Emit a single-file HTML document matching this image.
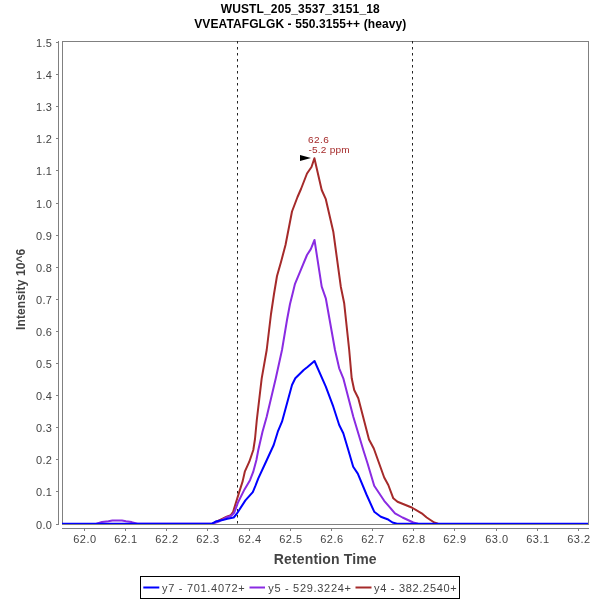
<!DOCTYPE html><html><head><meta charset="utf-8"><style>html,body{margin:0;padding:0;background:#fff;width:600px;height:600px;overflow:hidden}svg{display:block;will-change:transform}text{font-family:"Liberation Sans",sans-serif}</style></head><body>
<svg width="600" height="600" viewBox="0 0 600 600">
<rect x="0" y="0" width="600" height="600" fill="#fff"/>
<text x="300.3" y="13" text-anchor="middle" font-size="12" letter-spacing="0.14" font-weight="bold" fill="#000">WUSTL_205_3537_3151_18</text>
<text x="300.3" y="28" text-anchor="middle" font-size="12" letter-spacing="0.1" font-weight="bold" fill="#000">VVEATAFGLGK - 550.3155++ (heavy)</text>
<rect x="62.5" y="41.5" width="526" height="483" fill="none" stroke="#808080" stroke-width="1"/>
<line x1="58.5" y1="41" x2="58.5" y2="525" stroke="#808080" stroke-width="1"/>
<line x1="56" y1="524.5" x2="58.5" y2="524.5" stroke="#808080" stroke-width="1"/>
<text x="52.3" y="528.7" text-anchor="end" font-size="11" letter-spacing="0.35" fill="#444">0.0</text>
<line x1="56" y1="491.5" x2="58.5" y2="491.5" stroke="#808080" stroke-width="1"/>
<text x="52.3" y="495.7" text-anchor="end" font-size="11" letter-spacing="0.35" fill="#444">0.1</text>
<line x1="56" y1="459.5" x2="58.5" y2="459.5" stroke="#808080" stroke-width="1"/>
<text x="52.3" y="463.7" text-anchor="end" font-size="11" letter-spacing="0.35" fill="#444">0.2</text>
<line x1="56" y1="427.5" x2="58.5" y2="427.5" stroke="#808080" stroke-width="1"/>
<text x="52.3" y="431.7" text-anchor="end" font-size="11" letter-spacing="0.35" fill="#444">0.3</text>
<line x1="56" y1="395.5" x2="58.5" y2="395.5" stroke="#808080" stroke-width="1"/>
<text x="52.3" y="399.7" text-anchor="end" font-size="11" letter-spacing="0.35" fill="#444">0.4</text>
<line x1="56" y1="363.5" x2="58.5" y2="363.5" stroke="#808080" stroke-width="1"/>
<text x="52.3" y="367.7" text-anchor="end" font-size="11" letter-spacing="0.35" fill="#444">0.5</text>
<line x1="56" y1="331.5" x2="58.5" y2="331.5" stroke="#808080" stroke-width="1"/>
<text x="52.3" y="335.7" text-anchor="end" font-size="11" letter-spacing="0.35" fill="#444">0.6</text>
<line x1="56" y1="299.5" x2="58.5" y2="299.5" stroke="#808080" stroke-width="1"/>
<text x="52.3" y="303.7" text-anchor="end" font-size="11" letter-spacing="0.35" fill="#444">0.7</text>
<line x1="56" y1="267.5" x2="58.5" y2="267.5" stroke="#808080" stroke-width="1"/>
<text x="52.3" y="271.7" text-anchor="end" font-size="11" letter-spacing="0.35" fill="#444">0.8</text>
<line x1="56" y1="235.5" x2="58.5" y2="235.5" stroke="#808080" stroke-width="1"/>
<text x="52.3" y="239.7" text-anchor="end" font-size="11" letter-spacing="0.35" fill="#444">0.9</text>
<line x1="56" y1="203.5" x2="58.5" y2="203.5" stroke="#808080" stroke-width="1"/>
<text x="52.3" y="207.7" text-anchor="end" font-size="11" letter-spacing="0.35" fill="#444">1.0</text>
<line x1="56" y1="170.5" x2="58.5" y2="170.5" stroke="#808080" stroke-width="1"/>
<text x="52.3" y="174.7" text-anchor="end" font-size="11" letter-spacing="0.35" fill="#444">1.1</text>
<line x1="56" y1="138.5" x2="58.5" y2="138.5" stroke="#808080" stroke-width="1"/>
<text x="52.3" y="142.7" text-anchor="end" font-size="11" letter-spacing="0.35" fill="#444">1.2</text>
<line x1="56" y1="106.5" x2="58.5" y2="106.5" stroke="#808080" stroke-width="1"/>
<text x="52.3" y="110.7" text-anchor="end" font-size="11" letter-spacing="0.35" fill="#444">1.3</text>
<line x1="56" y1="74.5" x2="58.5" y2="74.5" stroke="#808080" stroke-width="1"/>
<text x="52.3" y="78.7" text-anchor="end" font-size="11" letter-spacing="0.35" fill="#444">1.4</text>
<line x1="56" y1="42.5" x2="58.5" y2="42.5" stroke="#808080" stroke-width="1"/>
<text x="52.3" y="46.7" text-anchor="end" font-size="11" letter-spacing="0.35" fill="#444">1.5</text>
<line x1="62" y1="528.5" x2="589" y2="528.5" stroke="#808080" stroke-width="1"/>
<line x1="84.5" y1="528.5" x2="84.5" y2="531" stroke="#808080" stroke-width="1"/>
<text x="84.95" y="543" text-anchor="middle" font-size="11" letter-spacing="0.5" fill="#444">62.0</text>
<line x1="125.5" y1="528.5" x2="125.5" y2="531" stroke="#808080" stroke-width="1"/>
<text x="125.95" y="543" text-anchor="middle" font-size="11" letter-spacing="0.5" fill="#444">62.1</text>
<line x1="166.5" y1="528.5" x2="166.5" y2="531" stroke="#808080" stroke-width="1"/>
<text x="166.95" y="543" text-anchor="middle" font-size="11" letter-spacing="0.5" fill="#444">62.2</text>
<line x1="207.5" y1="528.5" x2="207.5" y2="531" stroke="#808080" stroke-width="1"/>
<text x="207.95" y="543" text-anchor="middle" font-size="11" letter-spacing="0.5" fill="#444">62.3</text>
<line x1="249.5" y1="528.5" x2="249.5" y2="531" stroke="#808080" stroke-width="1"/>
<text x="249.95" y="543" text-anchor="middle" font-size="11" letter-spacing="0.5" fill="#444">62.4</text>
<line x1="290.5" y1="528.5" x2="290.5" y2="531" stroke="#808080" stroke-width="1"/>
<text x="290.95" y="543" text-anchor="middle" font-size="11" letter-spacing="0.5" fill="#444">62.5</text>
<line x1="331.5" y1="528.5" x2="331.5" y2="531" stroke="#808080" stroke-width="1"/>
<text x="331.95" y="543" text-anchor="middle" font-size="11" letter-spacing="0.5" fill="#444">62.6</text>
<line x1="372.5" y1="528.5" x2="372.5" y2="531" stroke="#808080" stroke-width="1"/>
<text x="372.95" y="543" text-anchor="middle" font-size="11" letter-spacing="0.5" fill="#444">62.7</text>
<line x1="413.5" y1="528.5" x2="413.5" y2="531" stroke="#808080" stroke-width="1"/>
<text x="413.95" y="543" text-anchor="middle" font-size="11" letter-spacing="0.5" fill="#444">62.8</text>
<line x1="454.5" y1="528.5" x2="454.5" y2="531" stroke="#808080" stroke-width="1"/>
<text x="454.95" y="543" text-anchor="middle" font-size="11" letter-spacing="0.5" fill="#444">62.9</text>
<line x1="496.5" y1="528.5" x2="496.5" y2="531" stroke="#808080" stroke-width="1"/>
<text x="496.95" y="543" text-anchor="middle" font-size="11" letter-spacing="0.5" fill="#444">63.0</text>
<line x1="537.5" y1="528.5" x2="537.5" y2="531" stroke="#808080" stroke-width="1"/>
<text x="537.95" y="543" text-anchor="middle" font-size="11" letter-spacing="0.5" fill="#444">63.1</text>
<line x1="578.5" y1="528.5" x2="578.5" y2="531" stroke="#808080" stroke-width="1"/>
<text x="578.95" y="543" text-anchor="middle" font-size="11" letter-spacing="0.5" fill="#444">63.2</text>
<text x="325.3" y="563.9" text-anchor="middle" font-size="14" letter-spacing="0.15" font-weight="bold" fill="#444">Retention Time</text>
<text transform="translate(25.4,289.3) rotate(-90)" x="0" y="0" text-anchor="middle" font-size="12" letter-spacing="0.12" font-weight="bold" fill="#444">Intensity 10^6</text>
<line x1="237.5" y1="41" x2="237.5" y2="524" stroke="#222" stroke-width="1" stroke-dasharray="2.5,3.5"/>
<line x1="412.5" y1="41" x2="412.5" y2="524" stroke="#222" stroke-width="1" stroke-dasharray="2.5,3.5"/>
<rect x="140.5" y="576.5" width="319" height="22" fill="#fff" stroke="#000" stroke-width="1"/>
<line x1="143.3" y1="587.5" x2="159.3" y2="587.5" stroke="#0000ff" stroke-width="2"/>
<text x="162" y="592" font-size="11" letter-spacing="0.7" fill="#444">y7 - 701.4072+</text>
<line x1="249.5" y1="587.5" x2="265" y2="587.5" stroke="#8a2be2" stroke-width="2"/>
<text x="268.2" y="592" font-size="11" letter-spacing="0.7" fill="#444">y5 - 529.3224+</text>
<line x1="355.5" y1="587.5" x2="371.5" y2="587.5" stroke="#a52a2a" stroke-width="2"/>
<text x="374" y="592" font-size="11" letter-spacing="0.7" fill="#444">y4 - 382.2540+</text>
<defs><clipPath id="da"><rect x="62" y="41" width="527" height="483"/></clipPath></defs><g clip-path="url(#da)">
<path d="M212.0,523.8 L222.6,518.7 L226.7,516.6 L230.8,515.2 L233.0,512.2 L237.2,498.5 L242.7,481.1 L244.8,471.7 L249.3,461.7 L253.3,450.0 L255.0,439.0 L256.8,420.0 L261.7,378.3 L266.7,350.0 L271.0,314.0 L274.0,294.0 L277.0,276.0 L281.0,262.0 L285.5,245.0 L289.0,227.0 L292.0,211.5 L297.5,197.0 L301.0,189.0 L307.0,173.5 L311.5,167.0 L314.4,158.2 L321.7,190.0 L325.8,199.2 L333.3,231.7 L335.8,250.0 L340.8,286.7 L344.2,303.3 L349.2,350.0 L351.7,378.3 L354.2,390.0 L358.3,398.3 L369.0,439.5 L373.8,448.5 L384.2,477.5 L388.3,485.0 L393.3,498.3 L397.5,501.7 L411.7,507.5 L421.7,513.3 L426.7,517.5 L434.2,522.5 L438.0,523.8" fill="none" stroke="#a52a2a" stroke-width="2" stroke-linejoin="round"/>
<path d="M96.5,523.8 L102.0,522.0 L108.4,521.3 L112.4,520.5 L122.0,520.5 L126.0,521.3 L131.6,522.1 L137.5,523.8 L212.0,523.8 L219.0,521.5 L226.0,517.5 L231.3,515.8 L234.2,512.8 L238.1,502.2 L244.5,489.4 L250.0,480.2 L253.2,471.9 L256.4,460.0 L258.3,450.0 L262.5,431.7 L266.7,416.7 L275.8,378.3 L282.0,350.0 L287.0,320.0 L290.0,304.0 L293.0,292.0 L295.0,283.8 L300.0,271.9 L307.0,255.0 L310.8,249.1 L314.5,240.0 L321.7,286.7 L325.8,298.3 L335.0,350.0 L339.2,368.3 L343.3,378.3 L353.3,416.7 L363.3,450.0 L367.5,463.3 L374.2,485.8 L384.2,500.8 L389.2,506.7 L395.0,513.3 L402.5,517.5 L413.3,522.5 L418.0,523.8" fill="none" stroke="#8a2be2" stroke-width="2" stroke-linejoin="round"/>
<path d="M62.0,523.8 L211.7,523.8 L215.6,521.6 L222.6,520.1 L227.3,518.7 L233.7,517.5 L236.6,514.0 L245.4,500.4 L252.8,492.1 L255.5,485.7 L258.3,478.3 L264.5,465.0 L273.7,445.0 L277.8,431.7 L282.0,421.7 L292.0,385.0 L295.3,378.3 L303.7,370.0 L307.5,367.0 L314.5,361.0 L325.8,386.7 L333.3,406.7 L339.2,425.0 L343.3,433.3 L348.3,450.0 L353.2,466.7 L357.8,473.6 L366.7,495.0 L374.2,511.7 L380.8,516.7 L387.5,519.2 L392.5,522.5 L397.0,523.8 L588.0,523.8" fill="none" stroke="#0000ff" stroke-width="2" stroke-linejoin="round"/>
</g>
<text transform="translate(308,142.8) scale(1.12,1)" x="0" y="0" font-size="9" letter-spacing="0.35" fill="#a52a2a">62.6</text>
<text transform="translate(308.4,153.3) scale(1.12,1)" x="0" y="0" font-size="9" letter-spacing="0.2" fill="#a52a2a">-5.2 ppm</text>
<polygon points="300,155 300,161 311,158" fill="#000"/>
</svg></body></html>
